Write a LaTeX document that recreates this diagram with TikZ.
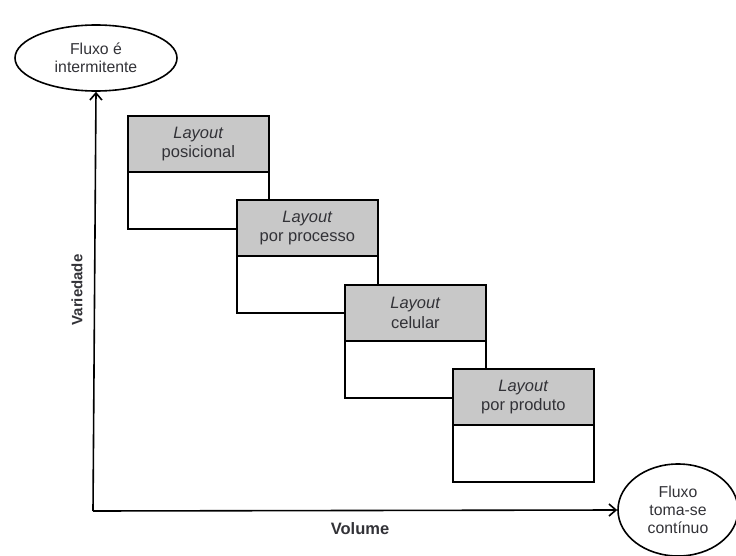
\documentclass[tikz,border=0pt]{standalone}
\usepackage{fontspec}
\setmainfont{Liberation Sans}
\usetikzlibrary{shapes.geometric,arrows.meta}
\definecolor{hdr}{RGB}{200,200,200}
\definecolor{txt}{RGB}{50,50,55}
\tikzset{
  ell/.style={draw=black, line width=1.6pt, ellipse, inner sep=0pt, text=txt, align=center, font=\fontsize{15.8}{18}\selectfont},
  boxbody/.style={draw=black, line width=1.8pt, fill=white, minimum width=141pt, minimum height=113pt, inner sep=0pt, anchor=north west},
  boxhead/.style={draw=black, line width=1.8pt, fill=hdr, minimum width=141pt, minimum height=56pt, inner sep=0pt, anchor=north west, text=txt, align=center, font=\fontsize{16.5}{19.5}\selectfont},
  axis/.style={line width=1.6pt, -{Straight Barb[length=7pt,width=12pt,line width=1.6pt]}},
  axlabel/.style={font=\bfseries\fontsize{15}{17}\selectfont, text=txt}
}
\begin{document}
\begin{tikzpicture}[x=1pt,y=-1pt]
\useasboundingbox (0,0) rectangle (736,556);
% ellipses
\node[ell, minimum width=162pt, minimum height=66pt] (top) at (96,58) {Fluxo é\\intermitente};
\node[ell, minimum width=120pt, minimum height=92pt] (bot) at (678,510) {Fluxo\\toma-se\\contínuo};
% axes
\coordinate (origin) at (93,511);
\draw[axis] (origin) -- (top.south);
\draw[axis] (origin) -- (bot.west);
\node[axlabel, rotate=90] (var) at (77,290) {Variedade};
\node[axlabel, font=\bfseries\fontsize{16.5}{18}\selectfont] (vol) at (360,529) {Volume};
% boxes
\node[boxbody] (b1) at (127,115) {};
\node[boxhead] (h1) at (127,115) {\textit{Layout}\\posicional};
\node[boxbody] (b2) at (236,199) {};
\node[boxhead] (h2) at (236,199) {\textit{Layout}\\por processo};
\node[boxbody] (b3) at (344,284) {};
\node[boxhead] (h3) at (344,284) {\textit{Layout}\\celular};
\node[boxbody] (b4) at (452,368) {};
\node[boxhead] (h4) at (452,368) {\textit{Layout}\\por produto};
\end{tikzpicture}
\end{document}
